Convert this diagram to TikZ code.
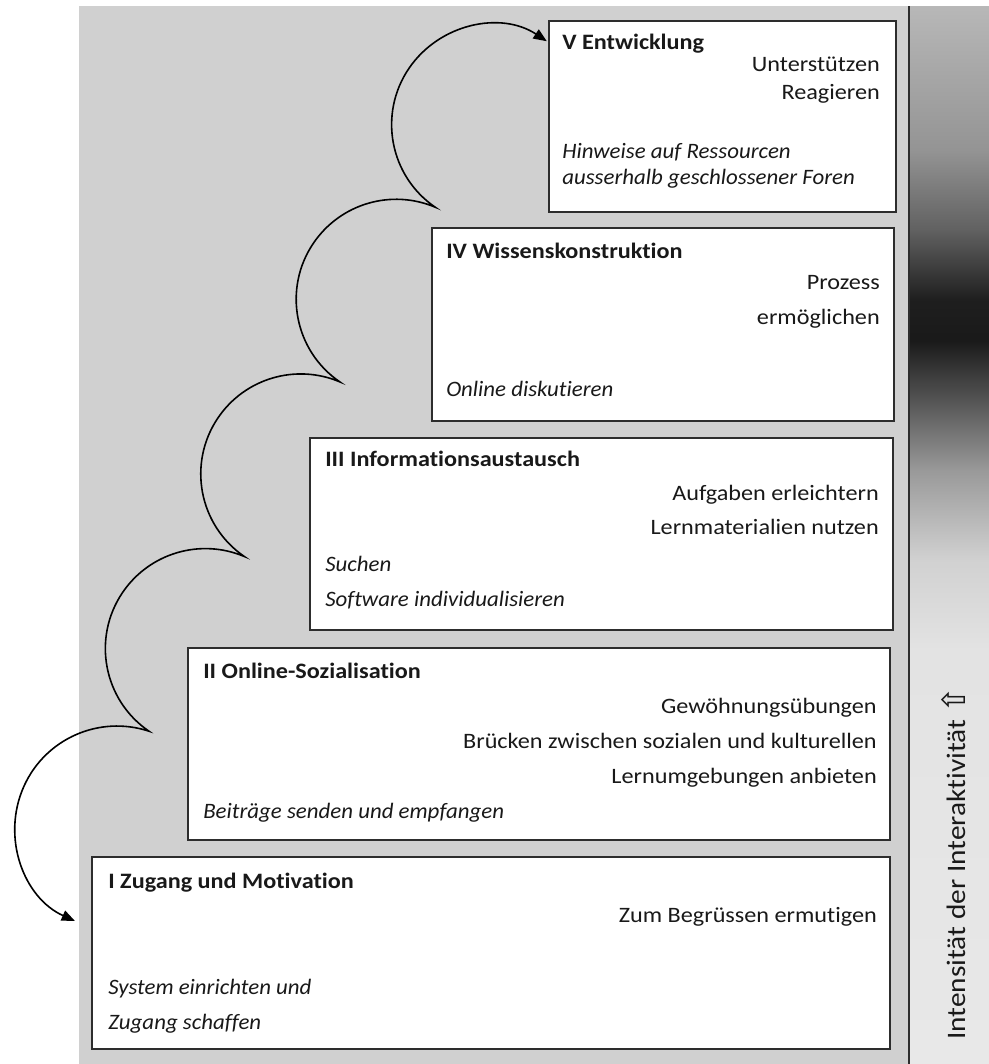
\documentclass[tikz,border=0pt]{standalone}
\usepackage{fontspec}
\setmainfont{Carlito}[FakeStretch=1.1, Ligatures=NoCommon, ItalicFeatures={FakeStretch=1.04}]
\newfontfamily\symfont{DejaVu Sans}
\usetikzlibrary{arrows.meta,fit}
\definecolor{bggray}{RGB}{208,208,208}
\definecolor{boxline}{RGB}{45,45,45}
\definecolor{ink}{RGB}{25,25,25}
\pgfdeclareverticalshading{stripshade}{100bp}{color(0bp)=(black!9); color(25bp)=(black!9); color(44.56bp)=(black!11); color(48.82bp)=(black!18); color(53.07bp)=(black!40); color(56.38bp)=(black!67); color(59.21bp)=(black!90); color(61.11bp)=(black!88); color(64.41bp)=(black!62); color(68.19bp)=(black!42); color(75bp)=(black!28); color(100bp)=(black!28)}
\tikzset{
  stage/.style={draw=boxline, line width=1.1pt, fill=white, inner sep=0pt},
  ttl/.style={font=\fontsize{16.5}{19}\selectfont\bfseries, text=ink, inner sep=0pt},
  rtxt/.style={font=\fontsize{16.5}{19}\selectfont, text=ink, inner sep=0pt, anchor=base east},
  itxt/.style={font=\fontsize{16.5}{19}\selectfont\itshape, text=ink, inner sep=0pt, anchor=base west},
  hop/.style={draw=black, line width=1.2pt, {Triangle[length=10pt,width=8pt]}-{Triangle[length=10pt,width=8pt]}}
}
\begin{document}
\begin{tikzpicture}[x=0.75pt,y=-0.75pt]
\useasboundingbox (0,0) rectangle (989,1064);
\fill[white] (0,0) rectangle (989,1064);
\fill[bggray] (79,6) rectangle (909,1064);
\shade[shading=stripshade] (909,6) rectangle (989,1064);
\draw[boxline, line width=1.2pt] (909,6) -- (909,1064);

% stage boxes
\node[stage, fit={(549,21) (896,212)}] (b5) {};
\node[stage, fit={(432,228) (894,421)}] (b4) {};
\node[stage, fit={(310,438) (893,630)}] (b3) {};
\node[stage, fit={(188,648) (890,840)}] (b2) {};
\node[stage, fit={(92,857) (890,1049)}] (b1) {};

% V
\node[ttl, anchor=base west] (t5) at (562,49) {V Entwicklung};
\node[rtxt] (v1) at (880,71) {Unterstützen};
\node[rtxt] (v2) at (880,99) {Reagieren};
\node[itxt] (v3) at (562,158) {Hinweise auf Ressourcen};
\node[itxt] (v4) at (562,184) {ausserhalb geschlossener Foren};

% IV
\node[ttl, anchor=base west] (t4) at (446,258) {IV Wissenskonstruktion};
\node[rtxt] (w1) at (880,289) {Prozess};
\node[rtxt] (w2) at (880,324) {ermöglichen};
\node[itxt] (w3) at (446,396) {Online diskutieren};

% III
\node[ttl, anchor=base west] (t3) at (325,466) {III Informationsaustausch};
\node[rtxt] (i1) at (879,500) {Aufgaben erleichtern};
\node[rtxt] (i2) at (879,534) {Lernmaterialien nutzen};
\node[itxt] (i3) at (325,571) {Suchen};
\node[itxt] (i4) at (325,606) {Software individualisieren};

% II
\node[ttl, anchor=base west] (t2) at (203,678) {II Online-Sozialisation};
\node[rtxt] (s1) at (877,713) {Gewöhnungsübungen};
\node[rtxt] (s2) at (877,748) {Brücken zwischen sozialen und kulturellen};
\node[rtxt] (s3) at (877,783) {Lernumgebungen anbieten};
\node[itxt] (s4) at (203,818) {Beiträge senden und empfangen};

% I
\node[ttl, anchor=base west] (t1) at (108,888) {I Zugang und Motivation};
\node[rtxt] (z1) at (877,922) {Zum Begrüssen ermutigen};
\node[itxt] (z2) at (108,994) {System einrichten und};
\node[itxt] (z3) at (108,1029) {Zugang schaffen};

% axis label
\node[rotate=90, anchor=base west, font=\fontsize{20}{23}\selectfont, text=ink, inner sep=0pt] (axis) at (965,1040) {Intensität der Interaktivität\hspace{0.25em}{\symfont\fontsize{24}{26}\selectfont ⇧}};

% scalloped progression arrow
\coordinate (hopstart) at (75,921);
\draw[hop] (hopstart)
  arc[start angle=-245.7, end angle=-71.7, radius=102]
  arc[start angle=-235.7, end angle=-67, radius=100]
  arc[start angle=-235.7, end angle=-67, radius=100]
  arc[start angle=-235.7, end angle=-67, radius=100]
  arc[start angle=-235.7, end angle=-56.5, radius=100];
\end{tikzpicture}
\end{document}
